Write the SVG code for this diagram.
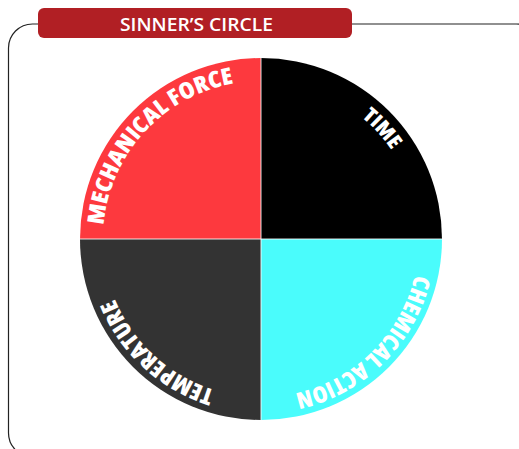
<svg xmlns="http://www.w3.org/2000/svg" xmlns:xlink="http://www.w3.org/1999/xlink" width="519" height="449" viewBox="0 0 519 449">
  <style>
    .lbl { font-family: "Open Sans", "DejaVu Sans", "Liberation Sans", sans-serif; font-weight: 800; font-stretch: condensed; fill: #ffffff; }
    .title { font-family: "Open Sans", "Liberation Sans", sans-serif; font-weight: 600; fill: #ffffff; }
    .frame { fill: none; stroke: #222222; stroke-width: 1.2; }
    .div { stroke: #ffffff; stroke-width: 1; opacity: 0.85; }
  </style>
  <defs>
    <path id="ring" d="M419,239 A158,158 0 1,1 103,239 A158,158 0 1,1 419,239"/>
  </defs>
  <rect width="519" height="449" fill="#ffffff"/>

  <g id="frame">
    <rect class="frame" x="8.5" y="24" width="532" height="433" rx="24" ry="24"/>
  </g>

  <g id="title">
    <rect x="38" y="8" width="314" height="30" rx="6" ry="6" fill="#B11F24"/>
    <text class="title" x="196.5" y="30.5" font-size="18" text-anchor="middle" textLength="153" lengthAdjust="spacingAndGlyphs">SINNER’S CIRCLE</text>
  </g>

  <g id="mechanical-force">
    <path d="M261,239 L80,239 A181,181 0 0,1 261,58 Z" fill="#FD393E"/>
    <text class="lbl" font-size="23"><textPath xlink:href="#ring" href="#ring" startOffset="510" textLength="207" lengthAdjust="spacingAndGlyphs">MECHANICAL FORCE</textPath></text>
  </g>

  <g id="time">
    <path d="M261,239 L261,58 A181,181 0 0,1 442,239 Z" fill="#000000"/>
    <text class="lbl" font-size="20.5"><textPath xlink:href="#ring" href="#ring" startOffset="853" textLength="45" lengthAdjust="spacingAndGlyphs">TIME</textPath></text>
  </g>

  <g id="chemical-action">
    <path d="M261,239 L442,239 A181,181 0 0,1 261,420 Z" fill="#4AFCFC"/>
    <text class="lbl" font-size="23"><textPath xlink:href="#ring" href="#ring" startOffset="36" textLength="178" lengthAdjust="spacingAndGlyphs">CHEMICAL ACTION</textPath></text>
  </g>

  <g id="temperature">
    <path d="M261,239 L261,420 A181,181 0 0,1 80,239 Z" fill="#333333"/>
    <text class="lbl" font-size="23"><textPath xlink:href="#ring" href="#ring" startOffset="295" textLength="140" lengthAdjust="spacingAndGlyphs">TEMPERATURE</textPath></text>
  </g>

  <g id="connectors">
    <line class="div" x1="261" y1="57" x2="261" y2="421"/>
    <line class="div" x1="79" y1="239" x2="443" y2="239"/>
  </g>
</svg>
